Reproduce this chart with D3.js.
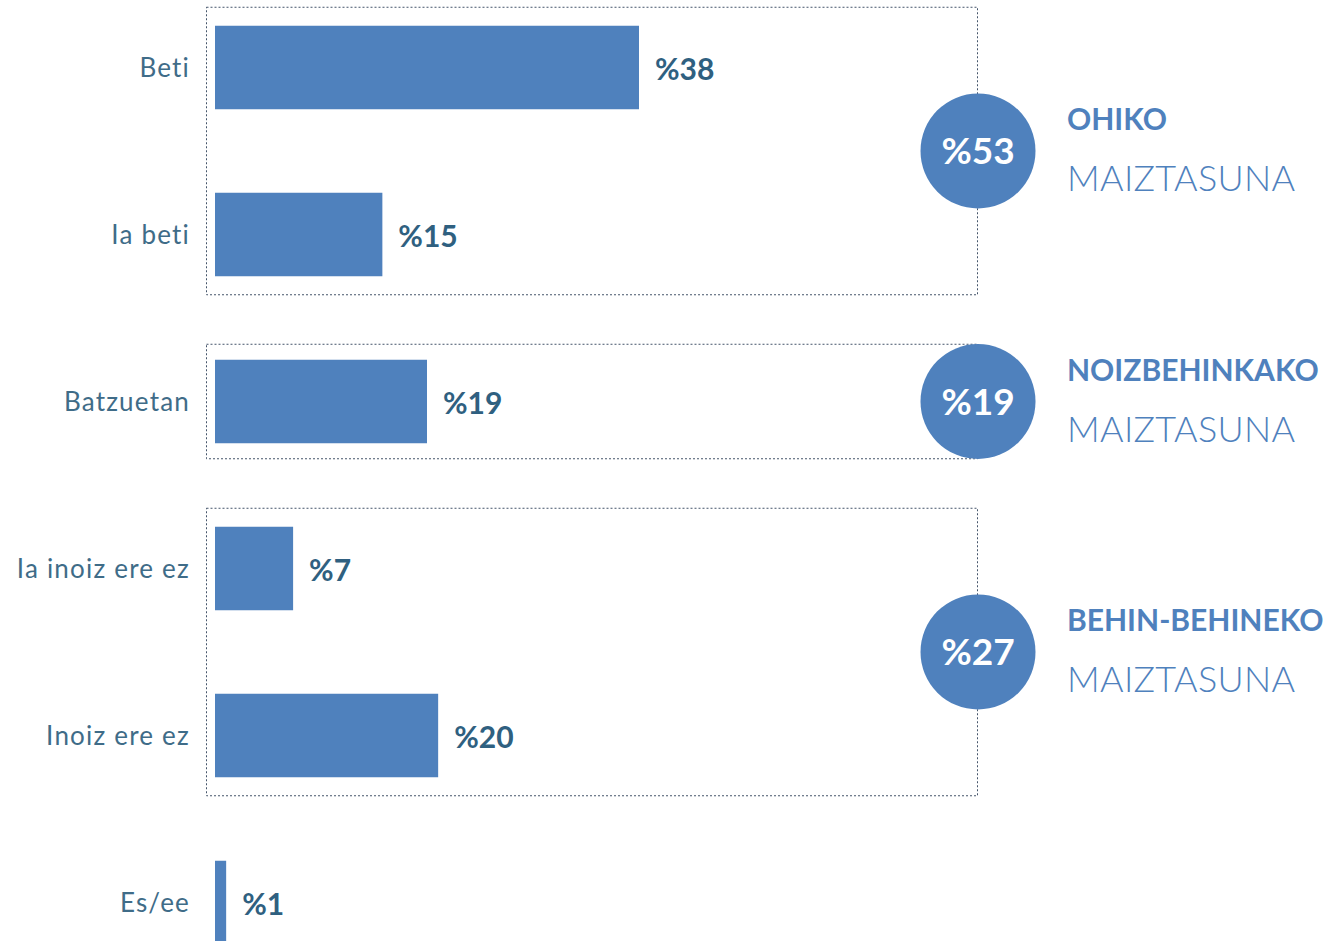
<!DOCTYPE html>
<html>
<head>
<meta charset="utf-8">
<script src="https://cdn.jsdelivr.net/npm/d3@7"></script>
<style>
  body { margin: 0; background: #fff; }
  svg { display: block; font-family: Lato, "Open Sans", sans-serif; }
</style>
</head>
<body>
<svg width="1328" height="941"></svg>
<script>
// data
var categories = ["Beti", "Ia beti", "Batzuetan", "Ia inoiz ere ez", "Inoiz ere ez", "Es/ee"];
var values = [38, 15, 19, 7, 20, 1];

var groupTitles = ["OHIKO", "NOIZBEHINKAKO", "BEHIN-BEHINEKO"];
var groupSubtitle = "MAIZTASUNA";
var groupMembers = [["Beti", "Ia beti"], ["Batzuetan"], ["Ia inoiz ere ez", "Inoiz ere ez"]];
var groupTotals = [53, 19, 27];

var data = categories.map((c, i) => ({ cat: c, value: values[i] }));

var svg = d3.select("svg");

var blue = "#4f81bd";
var labelColor = "#2f6080";
var catColor = "#3f6c88";

var xScale = d3.scaleLinear()
      .domain([0, 38])
      .range([215, 639]);

var yScale = d3.scaleBand()
      .domain(categories)
      .range([-16, 986])
      .paddingInner(0.5)
      .paddingOuter(0.25);

var bw = yScale.bandwidth();

// dotted group boxes
var groups = groupMembers.map((m, i) => {
  var first = yScale(m[0]);
  var last = yScale(m[m.length - 1]) + bw;
  var single = m.length === 1;
  return {
    top: first - (single ? 16 : 19),
    bottom: last + (single ? 15 : 18),
    cy: (first + last) / 2,
    title: groupTitles[i],
    total: groupTotals[i]
  };
});

svg.append("g")
      .selectAll("rect")
      .data(groups)
      .enter()
      .append("rect")
      .attr("x", 206.5)
      .attr("y", d => d.top + 0.5)
      .attr("width", 771)
      .attr("height", d => d.bottom - d.top)
      .attr("fill", "none")
      .attr("stroke", "#44546a")
      .attr("stroke-width", 1)
      .attr("stroke-dasharray", "2,2");

// bars
svg.append("g")
      .selectAll("rect")
      .data(data)
      .enter()
      .append("rect")
      .attr("x", xScale(0))
      .attr("y", d => yScale(d.cat))
      .attr("width", d => Math.max(xScale(d.value) - xScale(0), 0))
      .attr("height", bw)
      .attr("fill", blue);

// value labels
svg.append("g")
      .selectAll("text")
      .data(data)
      .enter()
      .append("text")
      .attr("x", d => xScale(d.value) + 16)
      .attr("y", d => yScale(d.cat) + bw / 2 + 12)
      .attr("font-size", 30)
      .attr("font-weight", "bold")
      .attr("fill", labelColor)
      .text(d => "%" + d.value);

// category labels
svg.append("g")
      .selectAll("text")
      .data(data)
      .enter()
      .append("text")
      .attr("x", 190)
      .attr("y", d => yScale(d.cat) + bw / 2 + 9)
      .attr("text-anchor", "end")
      .attr("font-size", 26)
      .attr("letter-spacing", 1.2)
      .attr("fill", catColor)
      .text(d => d.cat);

// circles with totals
var g = svg.append("g")
      .selectAll("g")
      .data(groups)
      .enter()
      .append("g")
      .attr("transform", d => "translate(978," + d.cy + ")");

g.append("circle")
      .attr("r", 57.5)
      .attr("fill", blue);

g.append("text")
      .attr("y", 13)
      .attr("text-anchor", "middle")
      .attr("font-size", 37)
      .attr("font-weight", "bold")
      .attr("fill", "#fff")
      .text(d => "%" + d.total);

g.append("text")
      .attr("x", 89)
      .attr("y", -21)
      .attr("font-size", 30)
      .attr("font-weight", "bold")
      .attr("fill", blue)
      .text(d => d.title);

g.append("text")
      .attr("x", 89)
      .attr("y", 40)
      .attr("font-size", 36)
      .attr("font-weight", 300)
      .attr("fill", blue)
      .attr("textLength", 228)
      .text(groupSubtitle);
</script>
</body>
</html>
